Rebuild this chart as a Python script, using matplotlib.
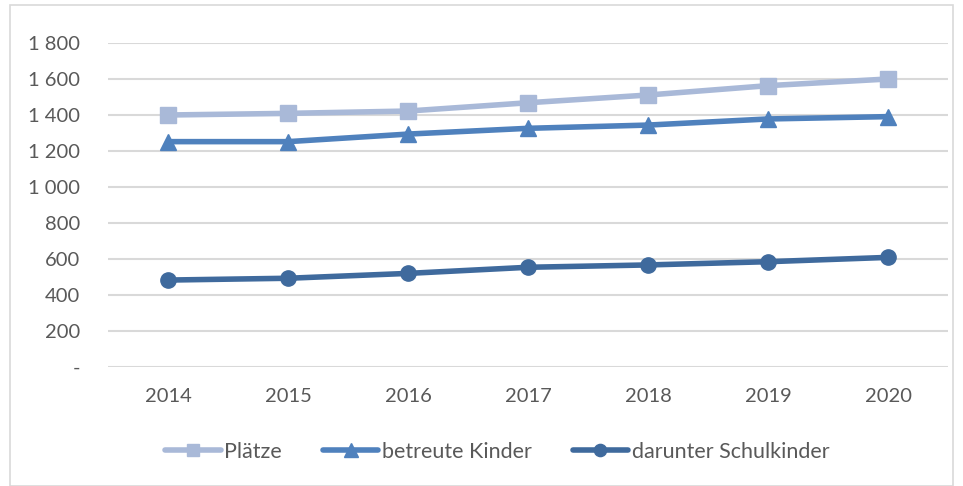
import matplotlib
matplotlib.use("Agg")
import matplotlib.pyplot as plt
from matplotlib.patches import Rectangle

years = ["2014", "2015", "2016", "2017", "2018", "2019", "2020"]
plaetze = [1400, 1409, 1422, 1468, 1511, 1563, 1600]
betreute = [1252, 1252, 1294, 1326, 1344, 1378, 1391]
schulkinder = [483, 493, 520, 554, 567, 585, 609]
series_names = ["Plätze", "betreute Kinder", "darunter Schulkinder"]

plt.rcParams['font.family'] = ['Lato', 'DejaVu Sans']
txt = '#595959'

fig = plt.figure(figsize=(9.63, 4.86), dpi=100)
W, H = 963, 486
ax = fig.add_axes([108 / W, 1 - 367 / H, 840 / W, 324 / H])

x = list(range(len(years)))
ax.plot(x, plaetze, color='#A9B9D8', lw=4, marker='s', ms=11, label=series_names[0], solid_capstyle='round')
ax.plot(x, betreute, color='#4F81BD', lw=4, marker='^', ms=12, label=series_names[1], solid_capstyle='round')
ax.plot(x, schulkinder, color='#3F6A9D', lw=4, marker='o', ms=11, label=series_names[2], solid_capstyle='round')

ax.set_xlim(-0.5, 6.5)
ax.set_ylim(0, 1800)
ax.set_yticks(range(0, 1801, 200))
ax.set_yticklabels(['-'] + [f"{v:,}".replace(',', ' ') for v in range(200, 1801, 200)])
ax.set_xticks(x)
ax.set_xticklabels(years)
ax.grid(axis='y', color='#D9D9D9', lw=1.5)
ax.set_axisbelow(True)
for s in ax.spines.values():
    s.set_visible(False)
ax.tick_params(length=0, colors=txt, labelsize=14.5)
ax.tick_params(axis='y', pad=20)
ax.tick_params(axis='x', pad=15)

leg = fig.legend(loc='center', bbox_to_anchor=(497 / W, 1 - 452 / H), ncol=3, frameon=False,
                 fontsize=15.5, handlelength=2.6, handletextpad=0.15, columnspacing=1.9, markerscale=0.8)
for t in leg.get_texts():
    t.set_color(txt)

fig.patches.append(Rectangle((10 / W, 0), (W - 20) / W, 1 - 5 / H, transform=fig.transFigure,
                             fill=False, edgecolor='#D9D9D9', lw=1.2))

fig.savefig('out.png', dpi=100)
